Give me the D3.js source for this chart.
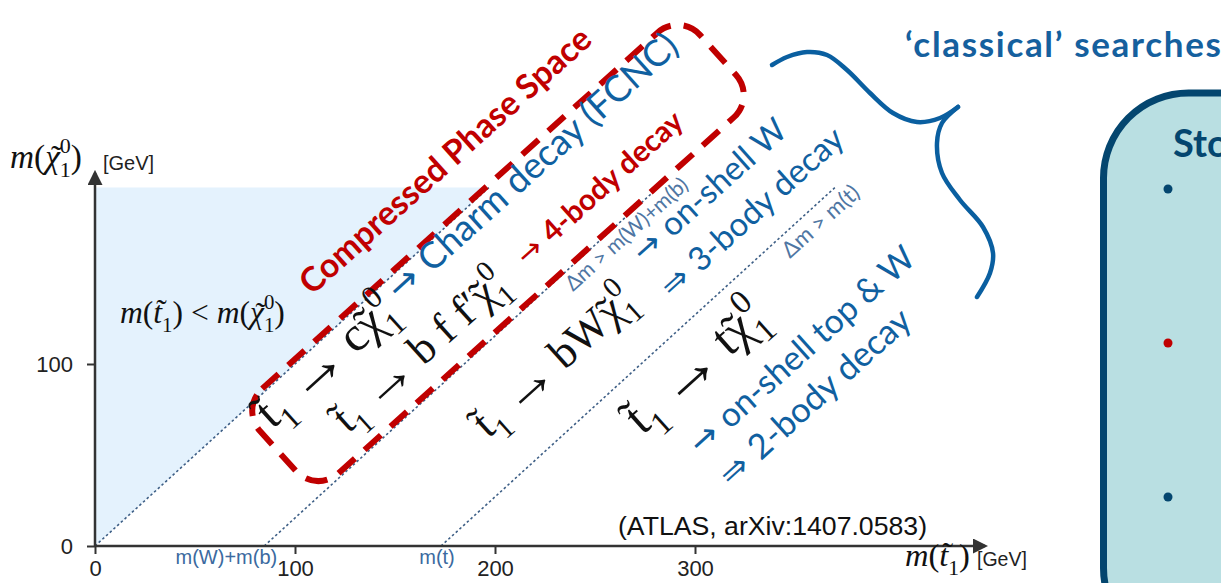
<!DOCTYPE html>
<html>
<head>
<meta charset="utf-8">
<script src="https://d3js.org/d3.v7.min.js"></script>
<style>
body {margin:0; background:#fff; overflow:hidden;}
</style>
</head>
<body>
<svg id="chart" width="1221" height="583"></svg>
<script>
// ---- data (GeV) ----
const xTicks = [0, 100, 200, 300];
const yTicks = [0, 100];
// kinematic boundaries: m(stop) - m(neutralino) = offset
const boundaryOffsets = [0, 84.6, 173];
const boundaryAxisLabels = ["", "m(W)+m(b)", "m(t)"];
const boundaryTop = 197;
const xAxisMax = 445, yAxisMax = 205;

// ---- text ----  ("~" = tilde accent on the letter, "A" = math arrow)
const AR = ["\u2192", "A"];
const decayModes = [
  [["t", "~"], ["1", "sub"], ["\u2009", ""], AR, ["\u2009c", ""], ["\u03C7", "~"], ["1", "sub"], ["0", "sup"]],
  [["t", "~"], ["1", "sub"], ["\u2009", ""], AR, ["\u2009b f f\u2032", ""], ["\u03C7", "~"], ["1", "sub"], ["0", "sup"]],
  [["t", "~"], ["1", "sub"], ["\u2009", ""], AR, ["\u2009bW", ""], ["\u03C7", "~"], ["1", "sub"], ["0", "sup"]],
  [["t", "~"], ["1", "sub"], ["\u2009", ""], AR, ["\u2009t", ""], ["\u03C7", "~"], ["1", "sub"], ["0", "sup"]]
];
const regimeNotes = ["\u2192 Charm decay (FCNC)", "\u2192 4-body decay", "\u2192 on-shell W",
  "\u21D2 3-body decay", "\u2192 on-shell top & W", "\u21D2 2-body decay"];
const thresholdNotes = ["\u0394m > m(W)+m(b)", "\u0394m > m(t)"];
const frameTitle = "Compressed Phase Space";
const forbiddenLabel = [["m", "i"], ["(", ""], ["t", "i~"], ["1", "sub"], [") < ", ""], ["m", "i"], ["(", ""], ["\u03C7", "i~"], ["1", "sub"], ["0", "sup"], [")", ""]];
const yTitle = [["m", "i"], ["(", ""], ["\u03C7", "i~"], ["1", "sub"], ["0", "sup"], [")", ""]];
const xTitle = [["m", "i"], ["(", ""], ["t", "i~"], ["1", "sub"], [")", ""]];
const sourceNote = "(ATLAS, arXiv:1407.0583)";
const sideTitle = "\u2018classical\u2019 searches";
const boxTitle = "Stop";

const BLUE = "#1060a0", RED = "#c00000", NAVY = "#04466f";
const SANS = "Lato, 'Open Sans', sans-serif", SERIF = "'Liberation Serif', 'DejaVu Serif', serif";
const ARIAL = "'Liberation Sans', Arial, sans-serif";

const svg = d3.select("#chart");

// scales
const x = d3.scaleLinear().domain([0, 300]).range([95, 695]);
const y = d3.scaleLinear().domain([0, 100]).range([546, 364]);
const line = d3.line().x(d => x(d[0])).y(d => y(d[1]));

// forbidden region m(stop) < m(chi)
svg.append("path")
  .attr("d", line([[0, 0], [0, boundaryTop], [boundaryTop, boundaryTop]]) + "Z")
  .attr("fill", "#e4f2fd");

// boundary lines
svg.append("g").selectAll("path")
  .data(boundaryOffsets)
  .join("path")
  .attr("d", o => line([[o, 0], [boundaryTop + o, boundaryTop]]))
  .attr("fill", "none")
  .attr("stroke", "#3e5f86")
  .attr("stroke-width", 1.6)
  .attr("stroke-dasharray", "2.5 2.5");

// axes
const defs = svg.append("defs");
defs.append("marker").attr("id", "arr").attr("viewBox", "0 0 10 10")
  .attr("refX", 8).attr("refY", 5).attr("markerWidth", 6).attr("markerHeight", 6)
  .attr("markerUnits", "strokeWidth").attr("orient", "auto")
  .append("path").attr("d", "M0,0 L10,5 L0,10 Z").attr("fill", "#333");

const xAx = svg.append("g").attr("transform", "translate(0," + y(0) + ")")
  .call(d3.axisBottom(x).tickValues(xTicks).tickSize(8).tickPadding(6));
const yAx = svg.append("g").attr("transform", "translate(" + x(0) + ",0)")
  .call(d3.axisLeft(y).tickValues(yTicks).tickSize(8).tickPadding(14));
[xAx, yAx].forEach(a => {
  a.select(".domain").remove();
  a.selectAll(".tick line").attr("stroke", "#333").attr("stroke-width", 2);
  a.selectAll(".tick text").attr("font-family", ARIAL).attr("font-size", 22).attr("fill", "#222");
});
svg.append("line").attr("x1", x(0)).attr("y1", y(0)).attr("x2", x(xAxisMax)).attr("y2", y(0))
  .attr("stroke", "#333").attr("stroke-width", 2.5).attr("marker-end", "url(#arr)");
svg.append("line").attr("x1", x(0)).attr("y1", y(0)).attr("x2", x(0)).attr("y2", y(yAxisMax))
  .attr("stroke", "#333").attr("stroke-width", 2.5).attr("marker-end", "url(#arr)");

// boundary names under the x axis
svg.append("g").selectAll("text")
  .data(boundaryOffsets.map((o, i) => ({o: o, t: boundaryAxisLabels[i]})).filter(d => d.t))
  .join("text")
  .attr("x", d => d.o < 100 ? x(d.o) + 13 : x(d.o) - 4)
  .attr("y", 564)
  .attr("text-anchor", d => d.o < 100 ? "end" : "middle")
  .attr("font-family", ARIAL).attr("font-size", 20).attr("fill", "#3b6aa0")
  .text(d => d.t);

// rich text with sub/superscripts and tilde accents
function richText(g, parts, base, font, fill, weight) {
  const t = g.append("text").attr("font-size", base).attr("font-family", font)
    .attr("fill", fill).attr("font-weight", weight || "normal");
  let shift = 0, prev = "", carry = 0;
  parts.forEach(([s, k]) => {
    const ts = t.append("tspan").text(s);
    let target = 0, size = base;
    if (k === "sub") { target = 0.28 * base; size = 0.66 * base; }
    if (k === "sup") { target = -0.45 * base; size = 0.66 * base; }
    if (k === "A") { target = 0.08 * base; size = 1.3 * base; }
    ts.attr("font-size", size).attr("dy", target - shift);
    let dx = carry; carry = 0;
    if (k === "sup" && prev === "sub") dx += -0.33 * base;
    if (dx) ts.attr("dx", dx);
    if (k.startsWith("i")) ts.attr("font-style", "italic");
    if (k === "b") ts.attr("font-weight", "bold");
    if (k === "a") ts.attr("font-family", "'DejaVu Sans', sans-serif").attr("font-weight", "normal");
    if (k.endsWith("~")) {
      const a = ts.node().getComputedTextLength();
      const tl = t.append("tspan").text("\u02DC").attr("font-size", base).attr("font-style", "normal");
      const tw = tl.node().getComputedTextLength();
      const slant = k.startsWith("i") ? 0.12 * base : -0.04 * base;
      const up = s === "t" ? -0.06 * base : 0.02 * base;
      tl.attr("dx", -(a + tw) / 2 + slant).attr("dy", up);
      carry = (a - tw) / 2 - slant;
      shift = up; prev = k;
      return;
    }
    shift = target; prev = k;
  });
  return t;
}

// place text so that it spans `len` px from (px,py) at `ang` degrees
function place(parts, px, py, len, ang, font, fill, weight) {
  const g = svg.append("g");
  const t = richText(g, parts, 20, font, fill, weight);
  const w = t.node().getBBox().width;
  g.attr("transform", "translate(" + px + "," + py + ") rotate(" + ang + ") scale(" + (len / w) + ")");
  return g;
}
function note(s, weight) {
  const c = s[0];
  if (c === "\u2192" || c === "\u21D2") return [[c + " ", "a"], [s.slice(2), weight || ""]];
  return [[s, weight || ""]];
}

// red compressed-region frame
const ANG = -42;
svg.append("rect")
  .attr("x", -296).attr("y", -57).attr("width", 592).attr("height", 114).attr("rx", 30)
  .attr("transform", "translate(498,253) rotate(" + ANG + ")")
  .attr("fill", "none").attr("stroke", RED).attr("stroke-width", 6)
  .attr("stroke-dasharray", "22 13");

place([[frameTitle, "b"]], 312, 296, 380, ANG, SANS, RED);
place(note(regimeNotes[0]), 400, 302, 378, ANG, SANS, BLUE);
place(decayModes[0], 270, 432, 175, ANG, SERIF, "#111");
place(decayModes[1], 346, 436, 222, ANG, SERIF, "#111");
place(note(regimeNotes[1], "b"), 527, 267, 214, ANG, SANS, RED);
place([[thresholdNotes[0], ""]], 573, 292, 157, ANG, SANS, "#4f76a3");
place(note(regimeNotes[2]), 644, 264, 196, ANG, SANS, BLUE);
place(note(regimeNotes[3]), 672, 299, 236, ANG, SANS, BLUE);
place(decayModes[2], 486, 441, 205, ANG, SERIF, "#111");
place([[thresholdNotes[1], ""]], 790, 259, 96, ANG, SANS, "#4f76a3");
place(decayModes[3], 640, 438, 175, ANG, SERIF, "#111");
place(note(regimeNotes[4]), 701, 456, 292, ANG, SANS, BLUE);
place(note(regimeNotes[5]), 731, 488, 247, ANG, SANS, BLUE);

// flat labels
place(forbiddenLabel, 120, 323, 165, 0, SERIF, "#111");
place(yTitle, 10, 168, 72, 0, SERIF, "#111");
place(xTitle, 905, 566, 65, 0, SERIF, "#111");
svg.append("text").attr("x", 103).attr("y", 170).attr("font-family", ARIAL).attr("font-size", 20).attr("fill", "#222").text("[GeV]");
svg.append("text").attr("x", 977).attr("y", 566).attr("font-family", ARIAL).attr("font-size", 19.5).attr("fill", "#222").text("[GeV]");
svg.append("text").attr("x", 618).attr("y", 535).attr("font-family", ARIAL).attr("font-size", 25).attr("fill", "#111")
  .attr("textLength", 309).attr("lengthAdjust", "spacingAndGlyphs").text(sourceNote);

// curly brace grouping the classical regions
const braceA = [[772, 65], [787, 57], [807, 52], [827, 55], [847, 70], [870, 93], [893, 113], [917, 122], [940, 118], [958, 107]];
const braceB = [[958, 107], [942, 123], [937, 143], [942, 173], [960, 200], [983, 227], [993, 253], [990, 273], [977, 297]];
const braceLine = d3.line().curve(d3.curveCatmullRom);
[braceA, braceB].forEach(p => svg.append("path").attr("d", braceLine(p))
  .attr("fill", "none").attr("stroke", "#0a5fa0").attr("stroke-width", 4.5).attr("stroke-linecap", "round"));

svg.append("text").attr("x", 905).attr("y", 57).attr("font-family", SANS).attr("font-weight", "bold")
  .attr("font-size", 35).attr("fill", "#15609e").attr("textLength", 316).attr("lengthAdjust", "spacing")
  .text(sideTitle);

// side box
svg.append("rect").attr("x", 1103.5).attr("y", 93).attr("width", 400).attr("height", 560).attr("rx", 85)
  .attr("fill", "#b9dfe2").attr("stroke", NAVY).attr("stroke-width", 7);
svg.append("text").attr("x", 1173).attr("y", 157).attr("font-family", SANS).attr("font-weight", "bold")
  .attr("font-size", 38).attr("fill", NAVY).text(boxTitle);
svg.append("g").selectAll("circle")
  .data([NAVY, RED, NAVY])
  .join("circle")
  .attr("cx", 1168).attr("cy", (d, i) => 189 + i * 154).attr("r", 4.5)
  .attr("fill", d => d);
</script>
</body>
</html>
